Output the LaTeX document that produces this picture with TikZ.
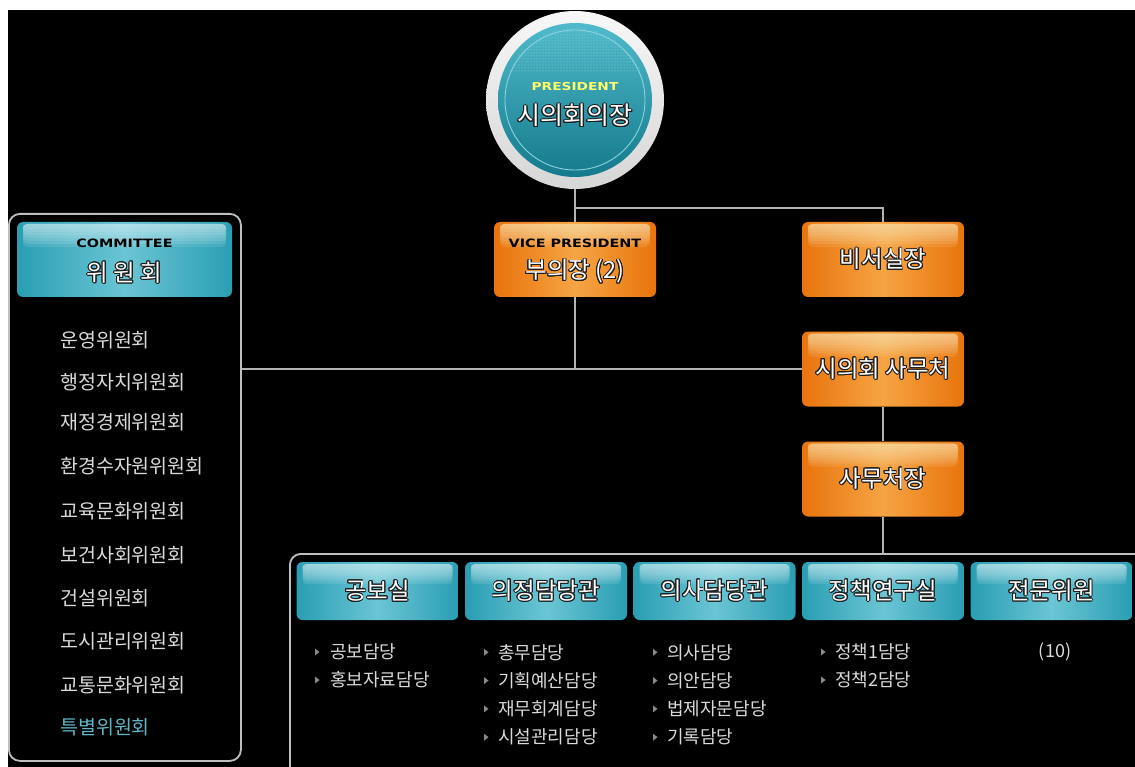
\documentclass[tikz,border=0pt]{standalone}
\usepackage{fontspec}
\setmainfont{Noto Sans CJK KR}
\newfontfamily\en{DejaVu Sans}[FakeStretch=1.25]
\usepackage[copies]{contour}
\contourlength{0.9pt}
\usetikzlibrary{patterns}

\definecolor{ordark}{HTML}{E8740C}
\definecolor{ormid}{HTML}{F6A444}
\definecolor{orhi}{HTML}{FDE8B8}
\definecolor{tldark}{HTML}{2A9EB3}
\definecolor{tlmid}{HTML}{6AC5D4}
\definecolor{tlhi}{HTML}{D6F1F6}
\definecolor{discTop}{HTML}{50BACA}
\definecolor{discBot}{HTML}{147A8C}
\definecolor{discRing}{HTML}{8CD2DE}
\definecolor{discDot}{HTML}{9ADAE4}
\definecolor{linegrey}{HTML}{B4B4B4}
\definecolor{listgrey}{HTML}{DADADA}
\definecolor{listteal}{HTML}{62B6C6}
\definecolor{bulgrey}{HTML}{8A8A8A}
\definecolor{ptitle}{HTML}{FFFF66}
\definecolor{txtdark}{HTML}{1E1E1E}

\newcommand\outl[1]{\contour{txtdark}{#1}}
\newcommand\boxfont{\fontsize{23.5}{26}\selectfont}

% soft highlight band: stacked translucent strips, densest at the top
\newcommand\gloss[2]{%
  \foreach \k in {0,...,7}
    \fill[#1, opacity=0.13, rounded corners=4pt]
      ([xshift=6pt,yshift=-2pt]path picture bounding box.north west) rectangle
      ([xshift=-6pt,yshift={-4pt-#2*\k}]path picture bounding box.north east);}

\tikzset{
  conn/.style={draw=linegrey, line width=1.6pt},
  frame/.style={draw=linegrey!85!white, line width=1.8pt, rounded corners=11pt,
                inner sep=0pt, anchor=north west},
  obox/.style={rounded corners=6pt, minimum width=162pt, minimum height=75pt,
               inner sep=0pt, left color=ordark, right color=ordark, middle color=ormid,
               path picture={\gloss{orhi}{3pt}},
               font=\boxfont, text=white},
  tbox/.style={rounded corners=6pt, minimum width=162pt, minimum height=58pt,
               inner sep=0pt, left color=tldark, right color=tldark, middle color=tlmid,
               path picture={\gloss{tlhi}{2.6pt}},
               font=\boxfont, text=white},
  entitle/.style={font=\en\bfseries\fontsize{11.5}{13}\selectfont, inner sep=0pt},
  comitem/.style={font=\fontsize{19.5}{22}\selectfont, text=listgrey, anchor=west, inner sep=0pt},
  subitem/.style={font=\fontsize{18}{20}\selectfont, text=listgrey, anchor=west, inner sep=0pt},
  bul/.pic={\fill[bulgrey] (0,-3.5) -- (4.5,0) -- (0,3.5) -- cycle;}
}

\begin{document}
\begin{tikzpicture}[x=1pt, y=-1pt]
\useasboundingbox (0,0) rectangle (1135,767);
\fill[white] (0,0) rectangle (1135,767);
\fill[black] (8,10) rectangle (1135,767);

\begin{scope}
\clip (8,10) rectangle (1135,767);

% outer frames
\node[frame, minimum width=232pt, minimum height=547pt] (com) at (8,213) {};
\node[frame, minimum width=860pt, minimum height=230pt] (bot) at (289,553) {};

% president disc
\node[circle, minimum size=178pt, inner sep=0pt, top color=white!97!black,
      bottom color=white!84!black] (pres) at (575,100) {};
\shade[top color=discTop, bottom color=discBot] (pres.center) circle[radius=77pt];
\begin{scope}
  \clip (pres.center) circle[radius=72pt];
  \fill[pattern=dots, pattern color=discDot] (490,20) rectangle (660,72);
\end{scope}
\draw[discRing, line width=0.9pt] (pres.center) circle[radius=70pt];

% orange boxes
\node[obox] (vp) at (575,259.5) {};
\node[entitle, text=black] (vptitle) at (575,243) {VICE PRESIDENT};
\node[font=\boxfont, text=white, inner sep=0pt] (vpname) at (575,272) {\outl{부의장 (2)}};
\node[obox] (sec) at (883,259.5) {\outl{비서실장}};
\node[obox] (office) at (883,369) {\outl{시의회 사무처}};
\node[obox] (chief) at (883,479) {\outl{사무처장}};

% connectors
\coordinate (j1) at (575,208);
\draw[conn] (pres.south) -- (vp.north);
\draw[conn] (j1) -| (sec.north);
\draw[conn] (vp.south) -- (vp.south |- office.west);
\draw[conn] (com.east |- office.west) -- (office.west);
\draw[conn] (office.south) -- (chief.north);
\draw[conn] (chief.south) -- (chief.south |- bot.north);

% president labels
\node[entitle, text=ptitle, font=\en\bfseries\fontsize{11}{12}\selectfont] (prestitle) at (575,86) {PRESIDENT};
\node[font=\fontsize{25}{28}\selectfont, text=white, inner sep=0pt] (presname) at (575,116) {\outl{시의회의장}};

% committee header and list
\node[tbox, minimum width=215pt, minimum height=75pt, path picture={\gloss{tlhi}{3pt}}] (comhead) at (124.5,259.5) {};
\node[entitle, text=black] (comtitle) at (124.5,243) {COMMITTEE};
\node[font=\boxfont, text=white, inner sep=0pt] (comname) at (124.5,273) {\outl{위 원 회}};

\node[comitem] (c1) at (60,340) {운영위원회};
\node[comitem] (c2) at (60,382) {행정자치위원회};
\node[comitem] (c3) at (60,422) {재정경제위원회};
\node[comitem] (c4) at (60,466) {환경수자원위원회};
\node[comitem] (c5) at (60,511) {교육문화위원회};
\node[comitem] (c6) at (60,555) {보건사회위원회};
\node[comitem] (c7) at (60,598) {건설위원회};
\node[comitem] (c8) at (60,641) {도시관리위원회};
\node[comitem] (c9) at (60,685) {교통문화위원회};
\node[comitem, text=listteal] (c10) at (60,727) {특별위원회};

% departments
\node[tbox] (d1) at (377.5,591) {\outl{공보실}};
\node[tbox] (d2) at (546,591) {\outl{의정담당관}};
\node[tbox] (d3) at (714.5,591) {\outl{의사담당관}};
\node[tbox] (d4) at (883,591) {\outl{정책연구실}};
\node[tbox] (d5) at (1051.5,591) {\outl{전문위원}};

% sections
\foreach \t [count=\i] in {공보담당, 홍보자료담당} {
  \pic at (315,{624+28*\i}) {bul};
  \node[subitem] (s1\i) at (330,{624+28*\i}) {\t};
}
\foreach \t [count=\i] in {총무담당, 기획예산담당, 재무회계담당, 시설관리담당} {
  \pic at (484,{624+28.3*\i}) {bul};
  \node[subitem] (s2\i) at (498,{624+28.3*\i}) {\t};
}
\foreach \t [count=\i] in {의사담당, 의안담당, 법제자문담당, 기록담당} {
  \pic at (653,{624+28.3*\i}) {bul};
  \node[subitem] (s3\i) at (667,{624+28.3*\i}) {\t};
}
\foreach \t [count=\i] in {정책1담당, 정책2담당} {
  \pic at (821,{624+28*\i}) {bul};
  \node[subitem] (s4\i) at (835,{624+28*\i}) {\t};
}
\node[subitem, anchor=center] (s51) at (1055,652) {(10)};
\end{scope}
\end{tikzpicture}
\end{document}
